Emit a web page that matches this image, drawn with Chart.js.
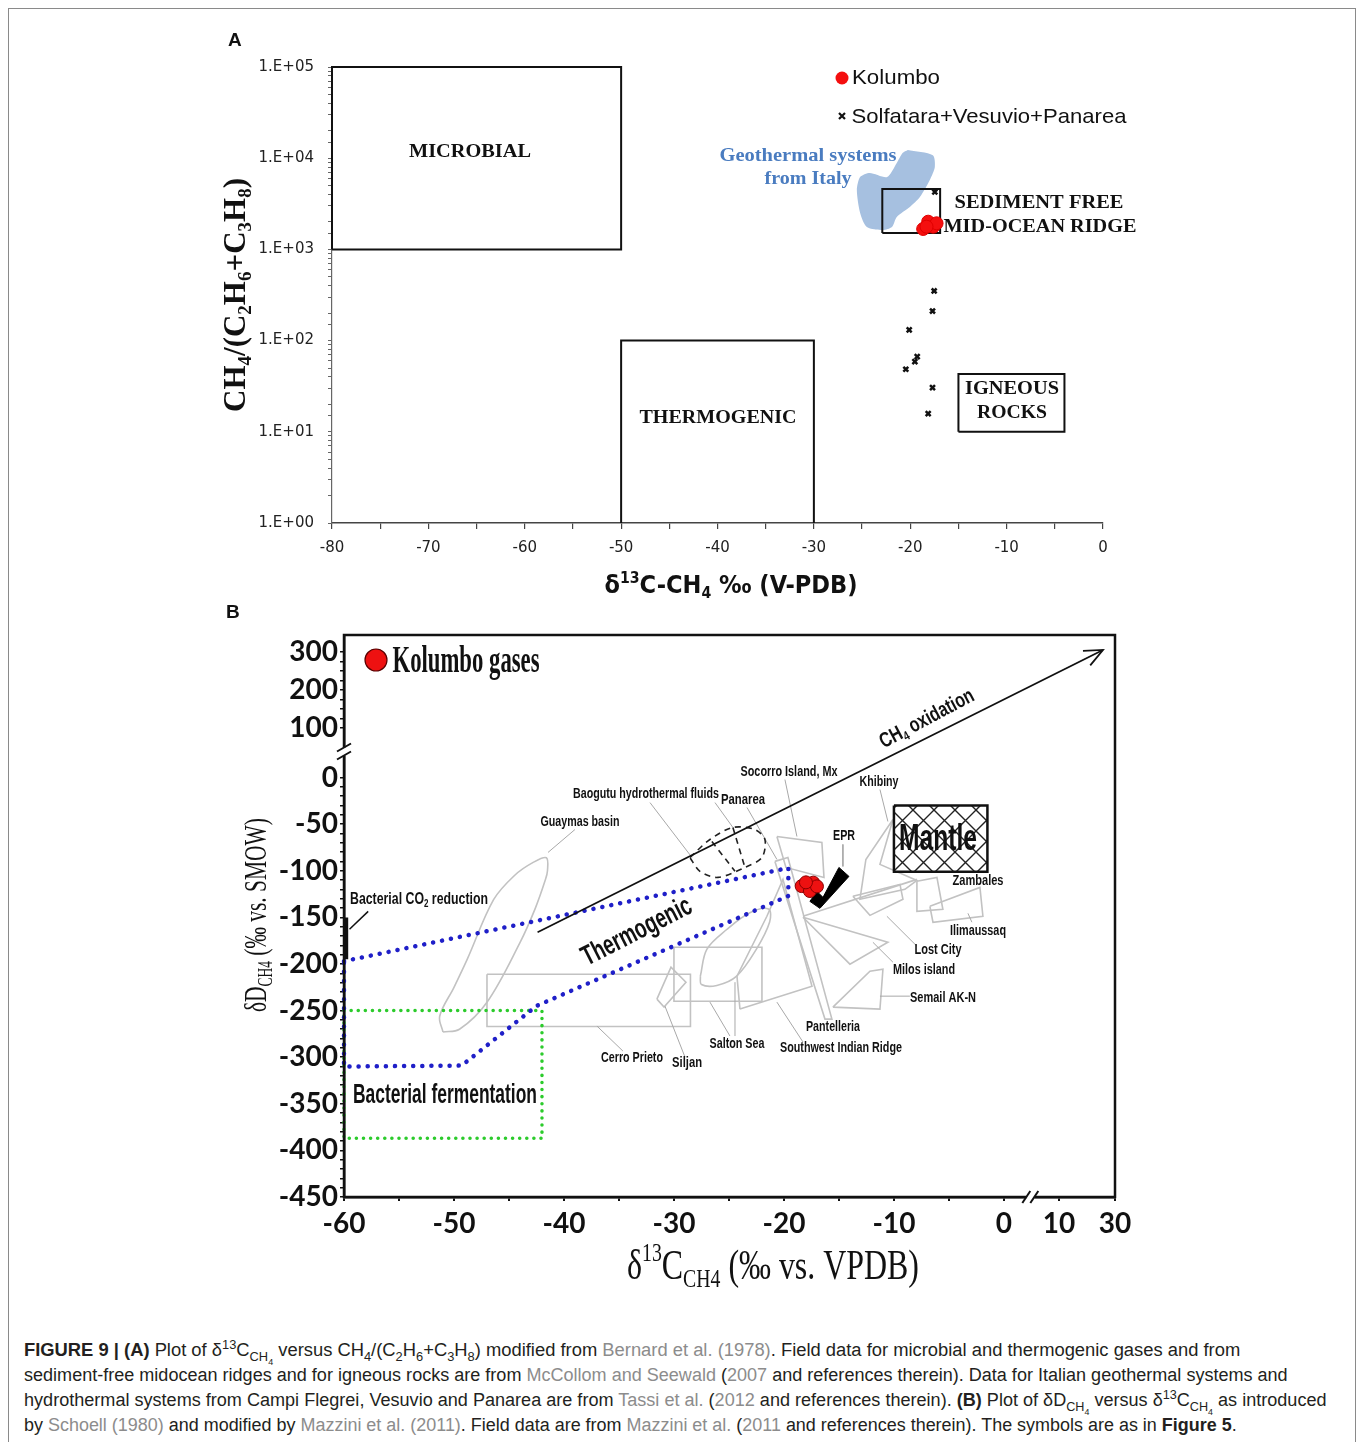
<!DOCTYPE html>
<html>
<head>
<meta charset="utf-8">
<script src="https://cdn.jsdelivr.net/npm/chart.js"></script>
<style>
  body { margin: 0; background: #fff; width: 1357px; height: 1442px; position: relative; overflow: hidden; font-family: 'Liberation Sans', Arial, sans-serif; }
  #frame { position: absolute; left: 8px; top: 8px; width: 1348px; height: 1440px; border: 1px solid #8a8a8a; box-sizing: border-box; }
  canvas { position: absolute; }
  #cA { left: 200px; top: 20px; }
  #cB { left: 220px; top: 600px; }
  .tag { position: absolute; font-weight: bold; font-size: 19px; color: #111; }
  #cap { position: absolute; left: 24px; top: 1338px; font-size: 18px; line-height: 25px; color: #231f20; }
  #cap div { white-space: nowrap; transform-origin: 0 0; width: max-content; }
  .r { color: #8c8c8c; }
  sub, sup { font-size: 70%; line-height: 0; }
</style>
</head>
<body>
<div id="frame"></div>
<canvas id="cA" width="970" height="590"></canvas>
<canvas id="cB" width="950" height="710"></canvas>
<div class="tag" style="left:228px;top:29px">A</div>
<div class="tag" style="left:226px;top:601px">B</div>
<div id="cap">
  <div><b>FIGURE 9 | (A)</b> Plot of δ<sup>13</sup>C<sub>CH<sub>4</sub></sub> versus CH<sub>4</sub>/(C<sub>2</sub>H<sub>6</sub>+C<sub>3</sub>H<sub>8</sub>) modified from <span class="r">Bernard et al. (1978)</span>. Field data for microbial and thermogenic gases and from</div>
  <div>sediment-free midocean ridges and for igneous rocks are from <span class="r">McCollom and Seewald</span> (<span class="r">2007</span> and references therein). Data for Italian geothermal systems and</div>
  <div>hydrothermal systems from Campi Flegrei, Vesuvio and Panarea are from <span class="r">Tassi et al.</span> (<span class="r">2012</span> and references therein). <b>(B)</b> Plot of δD<sub>CH<sub>4</sub></sub> versus δ<sup>13</sup>C<sub>CH<sub>4</sub></sub> as introduced</div>
  <div>by <span class="r">Schoell (1980)</span> and modified by <span class="r">Mazzini et al. (2011)</span>. Field data are from <span class="r">Mazzini et al.</span> (<span class="r">2011</span> and references therein). The symbols are as in <b>Figure 5</b>.</div>
</div>
<script>
// ---------- panel A : d13C-CH4 vs CH4/(C2H6+C3H8) ----------
const microbialBox = [[-80, 1000], [-50, 1000], [-50, 100000], [-80, 100000], [-80, 1000]]
const thermogenicBox = [[-50, 1], [-50, 100], [-30, 100], [-30, 1]]
const sedimentFreeBox = [[-22.9, 1510], [-16.9, 1510], [-16.9, 4600], [-22.9, 4600], [-22.9, 1510]]
const igneousBox = [[-15, 10], [-4, 10], [-4, 43], [-15, 43], [-15, 10]]
const italyField = [[-20.25, 12300], [-17.66, 10800], [-17.45, 8010], [-17.97, 5770], [-19.0, 3750], [-20.04, 2920],
  [-21.4, 2270], [-21.9, 1760], [-22.84, 1630], [-24.5, 1760], [-25.2, 2510], [-25.54, 4480], [-25.2, 6220],
  [-24.2, 6890], [-22.4, 6220], [-21.4, 8850], [-20.8, 11400], [-20.25, 12300]]
const kolumboA = [[-18.66, 1675], [-18.14, 2013], [-17.62, 1774], [-17.27, 1933], [-18.31, 1774]]
const solfataraA = [[-17.45, 4260], [-17.52, 350], [-17.69, 211], [-20.11, 131], [-19.28, 66.6], [-19.52, 58.7],
  [-20.46, 48.5], [-17.69, 30.5], [-18.14, 15.8]]

// ---------- panel B : dD-CH4 vs d13C-CH4 ----------
const xLabelsB = [-60, -50, -40, -30, -20, -10, 0, 10, 30]
const yLabelsB = [300, 200, 100, 0, -50, -100, -150, -200, -250, -300, -350, -400, -450]

const thermogenicField = [[-60, -197], [-19.6, -97], [-19.6, -127], [-42.5, -245], [-49.3, -309], [-60, -310], [-60, -197]]
const fermentationField = [[-60, -250], [-42, -250], [-42, -387], [-60, -387], [-60, -250]]
const co2Reduction = [[-59.8, -150], [-59.8, -195]]
const co2Pointer = [[-57.8, -143.5], [-59.5, -162.7]]
const oxidationArrow = [[-42.4, -166], [25.7, 305]]
const mantleBox = [[-10, -30], [-1.5, -30], [-1.5, -101], [-10, -101], [-10, -30]]
const eprField = [[-17.64, -132.8], [-17.0, -122.1], [-16.45, -128.5], [-15.0, -96.4], [-14.09, -106.0], [-16.73, -140.3], [-17.64, -132.8]]
const kolumboB = [[-18.39, -116.4], [-17.34, -112.7], [-17.64, -121.7], [-17.0, -116.7], [-18.0, -112.4]]

const guaymas = [[-51.0, -273], [-51.3, -256], [-50.0, -225], [-48.8, -195], [-46.4, -131], [-44.5, -105], [-42.8, -91],
  [-41.6, -86], [-41.5, -100], [-41.7, -110], [-42.6, -140], [-44.0, -177], [-47.0, -241], [-49.5, -270], [-51.0, -273]]
const cerroPrieto = [[-47, -211], [-28.5, -211], [-28.5, -267], [-47, -267], [-47, -211]]
const saltonBox = [[-30, -182], [-22, -182], [-22, -240], [-30, -240], [-30, -182]]
const saltonOval = [[-27.6, -213], [-27.0, -184], [-25.2, -163], [-23.1, -145], [-21.4, -141], [-21.3, -155],
  [-22.5, -184], [-24.3, -213], [-26.1, -223], [-27.5, -222], [-27.6, -213]]
const siljan = [[-31.55, -237.7], [-30.27, -203.4], [-28.91, -219.5], [-30.9, -246.3], [-31.55, -237.7]]
const socorro = [[-20.64, -63.2], [-16.55, -69.6], [-16.36, -107.1], [-19.82, -96.4], [-20.64, -63.2]]
const pantelleria = [[-20.82, -89.9], [-19.64, -85.7], [-15.64, -259.1], [-16.27, -259.1], [-20.82, -89.9]]
const swIndianRidge = [[-24.0, -248.4], [-17.45, -223.8], [-20.09, -109.2], [-21.55, -148.8], [-24.27, -213.1], [-24.0, -248.4]]
const lostCity = [[-13.73, -127.4], [-9.45, -114.6], [-9.18, -130.6], [-12.18, -147.8], [-13.73, -127.4]]
const lostCityLine = [[-18.27, -148.8], [-7.91, -109.2]]
const khibiny = [[-10.09, -45.0], [-12.55, -87.8], [-13.09, -130.6], [-9.0, -119.9], [-7.91, -110.3], [-11.27, -93.1], [-10.09, -45.0]]
const milos = [[-18.27, -149.9], [-14.0, -200.2], [-10.55, -176.7], [-18.27, -149.9]]
const zambales = [[-7.91, -111.3], [-6.09, -107.1], [-5.55, -141.3], [-7.91, -143.5], [-7.91, -111.3]]
const ilimaussaq = [[-6.73, -138.1], [-2.18, -117.8], [-1.91, -148.8], [-6.45, -155.2], [-6.73, -138.1]]
const semail = [[-15.55, -246.3], [-12.18, -207.7], [-11.0, -205.6], [-11.27, -248.4], [-15.55, -246.3]]
const panareaField = [[-28.55, -85.7], [-26.73, -66.4], [-24.64, -53.5], [-22.64, -55.7], [-21.73, -66.4], [-22.0, -85.7],
  [-23.55, -96.4], [-26.0, -107.1], [-27.64, -100.6], [-28.55, -85.7]]
const panareaInner = [[-24.64, -53.5], [-23.55, -96.4]]
const baogutuInner = [[-26.55, -68.5], [-24.45, -100.6]]
const pointers = [
  [[-39.0, -55.7], [-41.45, -80.3]],    // Guaymas
  [[-32.18, -26.8], [-28.36, -85.7]],   // Baogutu
  [[-26.27, -26.8], [-24.64, -53.5]],
  [[-23.36, -32.1], [-20.64, -87.8]],   // Panarea
  [[-19.91, -2.1], [-18.82, -63.2]],    // Socorro
  [[-11.27, -12.8], [-10.55, -47.1]],   // Khibiny
  [[-14.64, -71.7], [-14.64, -95.3]],   // EPR
  [[-7.91, -180.9], [-10.64, -148.8]],  // Lost City
  [[-10.09, -198.1], [-11.91, -176.7]], // Milos
  [[-8.55, -234.5], [-11.27, -234.5]],  // Semail
  [[-18.27, -283.7], [-20.64, -240.9]], // SW Indian Ridge
  [[-24.91, -277.3], [-26.73, -240.9]], // Salton Sea
  [[-24.45, -277.3], [-24.45, -219.5]],
  [[-29.0, -299.8], [-30.82, -245.2]],  // Siljan
  [[-34.64, -293.4], [-37.0, -266.6]],  // Cerro Prieto
  [[-2.91, -155.2], [-3.27, -145.6]]    // Ilimaussaq
]

// ---------- text ----------
const SERIF = 'Liberation Serif'
const labelsA = [
  { s: 'MICROBIAL', x: 470, y: 152, w: 122, size: 19, family: SERIF },
  { s: 'THERMOGENIC', x: 718, y: 418, w: 157, size: 19, family: SERIF },
  { s: 'SEDIMENT FREE', x: 1039, y: 203, w: 169, size: 19, family: SERIF },
  { s: 'MID-OCEAN RIDGE', x: 1040, y: 227, w: 193, size: 19, family: SERIF },
  { s: 'IGNEOUS', x: 1012, y: 389, w: 94, size: 19, family: SERIF },
  { s: 'ROCKS', x: 1012, y: 413, w: 70, size: 19, family: SERIF },
  { s: 'Geothermal systems', x: 808, y: 156, w: 177, size: 19, family: SERIF, color: '#4a7cc0' },
  { s: 'from Italy', x: 808, y: 179, w: 87, size: 19, family: SERIF, color: '#4a7cc0' },
  { s: 'Kolumbo', x: 896, y: 78, w: 88, size: 21, weight: 'normal' },
  { s: 'Solfatara+Vesuvio+Panarea', x: 989, y: 117, w: 275, size: 21, weight: 'normal' },
  { s: 'δ^{13}C-CH_{4} ‰ (V-PDB)', x: 731, y: 587, w: 253, size: 24, family: 'DejaVu Sans' },
  { s: 'CH_{4}/(C_{2}H_{6}+C_{3}H_{8})', x: 237, y: 295, w: 234, size: 31, family: SERIF, rot: -90 }
]
const labelsB = [
  { s: 'Kolumbo gases', x: 466, y: 662, w: 147, size: 38, family: SERIF },
  { s: 'Bacterial CO_{2} reduction', x: 419, y: 899, w: 138, size: 17 },
  { s: 'Guaymas basin', x: 580, y: 822, w: 79, size: 15 },
  { s: 'Baogutu hydrothermal fluids', x: 646, y: 794, w: 146, size: 15 },
  { s: 'Panarea', x: 743, y: 800, w: 44, size: 15 },
  { s: 'Socorro Island, Mx', x: 789, y: 772, w: 97, size: 15 },
  { s: 'Khibiny', x: 879, y: 782, w: 39, size: 15 },
  { s: 'EPR', x: 844, y: 836, w: 22, size: 15 },
  { s: 'Zambales', x: 978, y: 881, w: 51, size: 15 },
  { s: 'Ilimaussaq', x: 978, y: 931, w: 56, size: 15 },
  { s: 'Lost City', x: 938, y: 950, w: 47, size: 15 },
  { s: 'Milos island', x: 924, y: 970, w: 62, size: 15 },
  { s: 'Semail AK-N', x: 943, y: 998, w: 66, size: 15 },
  { s: 'Pantelleria', x: 833, y: 1027, w: 54, size: 15 },
  { s: 'Southwest Indian Ridge', x: 841, y: 1048, w: 122, size: 15 },
  { s: 'Salton Sea', x: 737, y: 1044, w: 55, size: 15 },
  { s: 'Siljan', x: 687, y: 1063, w: 30, size: 15 },
  { s: 'Cerro Prieto', x: 632, y: 1058, w: 62, size: 15 },
  { s: 'Mantle', x: 938, y: 840, w: 78, size: 36 },
  { s: 'Bacterial fermentation', x: 445, y: 1095, w: 184, size: 28 },
  { s: 'Thermogenic', x: 637, y: 932, w: 120, size: 28, rot: -27 },
  { s: 'CH_{4} oxidation', x: 927, y: 719, w: 104, size: 21, rot: -28 },
  { s: 'δ^{13}C_{CH4} (‰ vs. VPDB)', x: 773, y: 1268, w: 292, size: 42, family: SERIF, weight: 'normal' },
  { s: 'δD_{CH4} (‰ vs. SMOW)', x: 258, y: 915, w: 194, size: 32, family: SERIF, weight: 'normal', rot: -90 }
]

function parseRich(s) {
  const out = []
  const re = /([_^])\{([^}]*)\}/g
  let last = 0, m
  while ((m = re.exec(s))) {
    if (m.index > last) out.push([s.slice(last, m.index), ''])
    out.push([m[2], m[1] === '_' ? 'sub' : 'sup'])
    last = re.lastIndex
  }
  if (last < s.length) out.push([s.slice(last), ''])
  return out
}

// draws text with sub/superscripts, squeezed to the width
function drawRich(ctx, t, ox, oy) {
  const segs = parseRich(t.s)
  const size = t.size, fam = t.family || 'Liberation Sans', wt = t.weight || 'bold'
  const fontOf = k => wt + ' ' + (k ? Math.round(size * 0.62) : size) + 'px "' + fam + '"'
  let total = 0
  const widths = segs.map(sg => { ctx.font = fontOf(sg[1]); const w = ctx.measureText(sg[0]).width; total += w; return w })
  const sx = t.w ? t.w / total : 1
  ctx.save()
  ctx.translate(t.x - ox, t.y - oy)
  if (t.rot) ctx.rotate(t.rot * Math.PI / 180)
  ctx.scale(sx, 1)
  ctx.fillStyle = t.color || '#111'
  ctx.textBaseline = 'middle'
  ctx.textAlign = 'left'
  let cx = -total / 2
  segs.forEach((sg, i) => {
    ctx.font = fontOf(sg[1])
    const dy = sg[1] === 'sub' ? size * 0.28 : sg[1] === 'sup' ? -size * 0.32 : 0
    ctx.fillText(sg[0], cx, dy)
    cx += widths[i]
  })
  ctx.restore()
}

function poly(data, color, width, extra) {
  return Object.assign({ data, showLine: true, borderColor: color, borderWidth: width, pointRadius: 0, fill: false, tension: 0 }, extra || {})
}
const ptsA = arr => arr.map(p => ({ x: p[0], y: p[1] }))

// ---------- chart A ----------
const offA = [200, 20]
new Chart(document.getElementById('cA'), {
  type: 'scatter',
  data: {
    datasets: [
      poly(ptsA(italyField), 'rgba(0,0,0,0)', 1, { fill: 'shape', backgroundColor: '#a6c0e0', order: 6, tension: 0.25 }),
      poly(ptsA(microbialBox), '#111', 2, { order: 4, clip: 4 }),
      poly(ptsA(thermogenicBox), '#111', 2, { order: 4, clip: 4 }),
      poly(ptsA(sedimentFreeBox), '#111', 2, { order: 4 }),
      poly(ptsA(igneousBox), '#111', 2, { order: 4 }),
      { data: ptsA(solfataraA), pointStyle: 'crossRot', pointRadius: 3.5, borderColor: '#111', borderWidth: 2.5, order: 2 },
      { data: ptsA(kolumboA), pointRadius: 6.5, backgroundColor: '#f40f0f', borderColor: '#e00000', borderWidth: 1, order: 1 }
    ]
  },
  options: {
    responsive: false,
    animation: false,
    layout: { padding: { top: 47, right: 67, left: 0, bottom: 0 } },
    plugins: { legend: { display: false }, tooltip: { enabled: false } },
    scales: {
      x: {
        type: 'linear', min: -80, max: 0,
        ticks: {
          stepSize: 5, autoSkip: false, maxRotation: 0, padding: 10, color: '#222',
          font: { family: "'DejaVu Sans'", size: 15 },
          callback: v => (v % 10 === 0 ? String(v) : '')
        },
        grid: { drawOnChartArea: false, tickLength: 6, color: '#444', lineWidth: 1.2 },
        border: { color: '#444', width: 1.5 },
        afterFit: s => { s.height = 87 }
      },
      y: {
        type: 'logarithmic', min: 1, max: 100000,
        ticks: {
          autoSkip: false, padding: 14, color: '#222',
          font: { family: "'DejaVu Sans'", size: 15 },
          callback: v => {
            const e = Math.log10(v)
            return Math.abs(e - Math.round(e)) < 1e-9 ? '1.E+' + String(Math.round(e)).padStart(2, '0') : ''
          }
        },
        grid: { drawOnChartArea: false, tickLength: 4, color: '#666' },
        border: { color: '#666', width: 1.2 },
        afterFit: s => { s.width = 132 }
      }
    }
  },
  plugins: [{
    id: 'textA',
    afterDraw(chart) {
      const ctx = chart.ctx
      // legend symbols
      ctx.save()
      ctx.fillStyle = '#f40f0f'
      ctx.beginPath(); ctx.arc(842 - offA[0], 78 - offA[1], 6.5, 0, Math.PI * 2); ctx.fill()
      ctx.strokeStyle = '#111'; ctx.lineWidth = 2.2
      const cx = 842 - offA[0], cy = 116 - offA[1]
      ctx.beginPath(); ctx.moveTo(cx - 3, cy - 3); ctx.lineTo(cx + 3, cy + 3); ctx.moveTo(cx + 3, cy - 3); ctx.lineTo(cx - 3, cy + 3); ctx.stroke()
      ctx.restore()
      labelsA.forEach(t => drawRich(ctx, t, offA[0], offA[1]))
    }
  }]
})

// ---------- chart B (broken axes) ----------
// values above the breaks are squeezed, as in the original figure
function fyB(v) { return v <= 0 ? v : 53.5 + (v - 100) * 0.407 }
function fxB(v) { return v <= 0 ? v : 5 + (v - 10) * 0.255 }
const ptsB = arr => arr.map(p => ({ x: fxB(p[0]), y: fyB(p[1]) }))
const labelAt = (u, list, f) => { const hit = list.find(v => Math.abs(f(v) - u) < 1e-6); return hit === undefined ? '' : String(hit) }

const xMarksB = []
for (let v = -60; v <= 0; v += 5) xMarksB.push(v)
xMarksB.push(10, 30)
const yMarksB = []
for (let v = -450; v <= 0; v += 10) yMarksB.push(v)
for (let v = 100; v <= 300; v += 25) yMarksB.push(v)

function hatchPattern() {
  const c = document.createElement('canvas')
  c.width = 21; c.height = 21
  const g = c.getContext('2d')
  g.fillStyle = '#fff'; g.fillRect(0, 0, 21, 21)
  g.strokeStyle = '#222'; g.lineWidth = 1.4
  g.beginPath(); g.moveTo(0, 21); g.lineTo(21, 0); g.moveTo(0, 0); g.lineTo(21, 21); g.stroke()
  return g.createPattern(c, 'repeat')
}

const GRAY = '#c2c2c2'
const grayShapes = [cerroPrieto, saltonBox, siljan, socorro, pantelleria, swIndianRidge,
  lostCity, lostCityLine, khibiny, milos, zambales, ilimaussaq, semail]
const offB = [220, 600]
new Chart(document.getElementById('cB'), {
  type: 'scatter',
  data: {
    datasets: [
      { data: ptsB(kolumboB), pointRadius: 6.5, backgroundColor: '#ee1111', borderColor: '#8a0000', borderWidth: 1, order: 1 },
      poly(ptsB(eprField), '#000', 1, { fill: 'shape', backgroundColor: '#000', order: 2 }),
      poly(ptsB(co2Reduction), '#111', 4, { order: 2, clip: false }),
      poly(ptsB(co2Pointer), '#111', 1.5, { order: 2 }),
      poly(ptsB(oxidationArrow), '#111', 1.8, { order: 3, clip: false }),
      poly(ptsB(mantleBox), '#111', 2.5, { fill: 'shape', backgroundColor: hatchPattern(), order: 3 }),
      poly(ptsB(thermogenicField), '#1f1fc8', 4.5, { borderDash: [0.1, 9], borderCapStyle: 'round', order: 4, clip: false }),
      poly(ptsB(fermentationField), '#2ccb2c', 3.5, { borderDash: [0.1, 7], borderCapStyle: 'round', order: 4, clip: false }),
      poly(ptsB(panareaField), '#222', 1.6, { borderDash: [6, 5], order: 5, tension: 0.3 }),
      poly(ptsB(panareaInner), '#222', 1.6, { borderDash: [6, 5], order: 5 }),
      poly(ptsB(baogutuInner), '#222', 1.6, { borderDash: [6, 5], order: 5 }),
      ...pointers.map(p => poly(ptsB(p), '#a8a8a8', 1, { order: 6 })),
      poly(ptsB(guaymas), GRAY, 1.6, { order: 7, tension: 0.35 }),
      poly(ptsB(saltonOval), GRAY, 1.6, { order: 7, tension: 0.35 }),
      ...grayShapes.map(p => poly(ptsB(p), GRAY, 1.6, { order: 7 }))
    ]
  },
  options: {
    responsive: false,
    animation: false,
    layout: { padding: { top: 35, right: 55, left: 0, bottom: 0 } },
    plugins: { legend: { display: false }, tooltip: { enabled: false } },
    scales: {
      x: {
        type: 'linear', min: -60, max: fxB(30),
        afterBuildTicks: s => { s.ticks = xMarksB.map(v => ({ value: fxB(v) })) },
        ticks: {
          autoSkip: false, maxRotation: 0, padding: 6, color: '#111',
          font: { family: 'Lato', weight: 'bold', size: 28 },
          callback: v => labelAt(v, xLabelsB, fxB)
        },
        grid: { drawOnChartArea: false, tickLength: 4, color: '#111', lineWidth: 2 },
        border: { color: '#111', width: 2.5 },
        afterFit: s => { s.height = 113 }
      },
      y: {
        type: 'linear', min: -450, max: 153,
        afterBuildTicks: s => { s.ticks = yMarksB.map(v => ({ value: fyB(v) })) },
        ticks: {
          autoSkip: false, padding: 2, color: '#111',
          font: { family: 'Lato', weight: 'bold', size: 28 },
          callback: v => labelAt(v, yLabelsB, fyB)
        },
        grid: { drawOnChartArea: false, tickLength: 4, color: '#111', lineWidth: 1.5 },
        border: { color: '#111', width: 2.5 },
        afterFit: s => { s.width = 124 }
      }
    }
  },
  plugins: [{
    id: 'decorB',
    afterDatasetsDraw(chart) {
      const ctx = chart.ctx
      // arrow head on the oxidation line
      const meta = chart.getDatasetMeta(4)
      const a = meta.data[0], b = meta.data[1]
      const ang = Math.atan2(b.y - a.y, b.x - a.x)
      ctx.save()
      ctx.strokeStyle = '#111'; ctx.lineWidth = 1.8
      ctx.beginPath()
      ctx.moveTo(b.x - 20 * Math.cos(ang - 0.42), b.y - 20 * Math.sin(ang - 0.42))
      ctx.lineTo(b.x, b.y)
      ctx.lineTo(b.x - 20 * Math.cos(ang + 0.42), b.y - 20 * Math.sin(ang + 0.42))
      ctx.stroke()
      ctx.restore()
    },
    afterDraw(chart) {
      const ctx = chart.ctx
      const ca = chart.chartArea
      ctx.save()
      ctx.strokeStyle = '#111'; ctx.lineWidth = 2.5
      ctx.strokeRect(ca.left, ca.top, ca.right - ca.left, ca.bottom - ca.top)
      // axis breaks
      const yb = chart.scales.y.getPixelForValue(28)
      ctx.fillStyle = '#fff'
      ctx.fillRect(ca.left - 3, yb - 4, 6, 8)
      ctx.lineWidth = 2
      ;[-4, 4].forEach(d => { ctx.beginPath(); ctx.moveTo(ca.left - 7, yb + d + 4); ctx.lineTo(ca.left + 7, yb + d - 4); ctx.stroke() })
      const xb = chart.scales.x.getPixelForValue(2.4)
      ctx.fillRect(xb - 4, ca.bottom - 3, 8, 6)
      ;[-4, 4].forEach(d => { ctx.beginPath(); ctx.moveTo(xb + d - 4, ca.bottom + 6); ctx.lineTo(xb + d + 4, ca.bottom - 6); ctx.stroke() })
      // legend symbol
      ctx.fillStyle = '#ee1111'; ctx.strokeStyle = '#5a0000'; ctx.lineWidth = 1.2
      ctx.beginPath(); ctx.arc(376 - offB[0], 660 - offB[1], 11, 0, Math.PI * 2); ctx.fill(); ctx.stroke()
      ctx.restore()
      labelsB.forEach(t => drawRich(ctx, t, offB[0], offB[1]))
    }
  }]
})

// caption lines squeezed to their widths in the original
const capWidths = [1216, 1264, 1303, 1213]
document.querySelectorAll('#cap div').forEach((d, i) => {
  d.style.transform = 'scaleX(' + (capWidths[i] / d.offsetWidth) + ')'
})
</script>
</body>
</html>
